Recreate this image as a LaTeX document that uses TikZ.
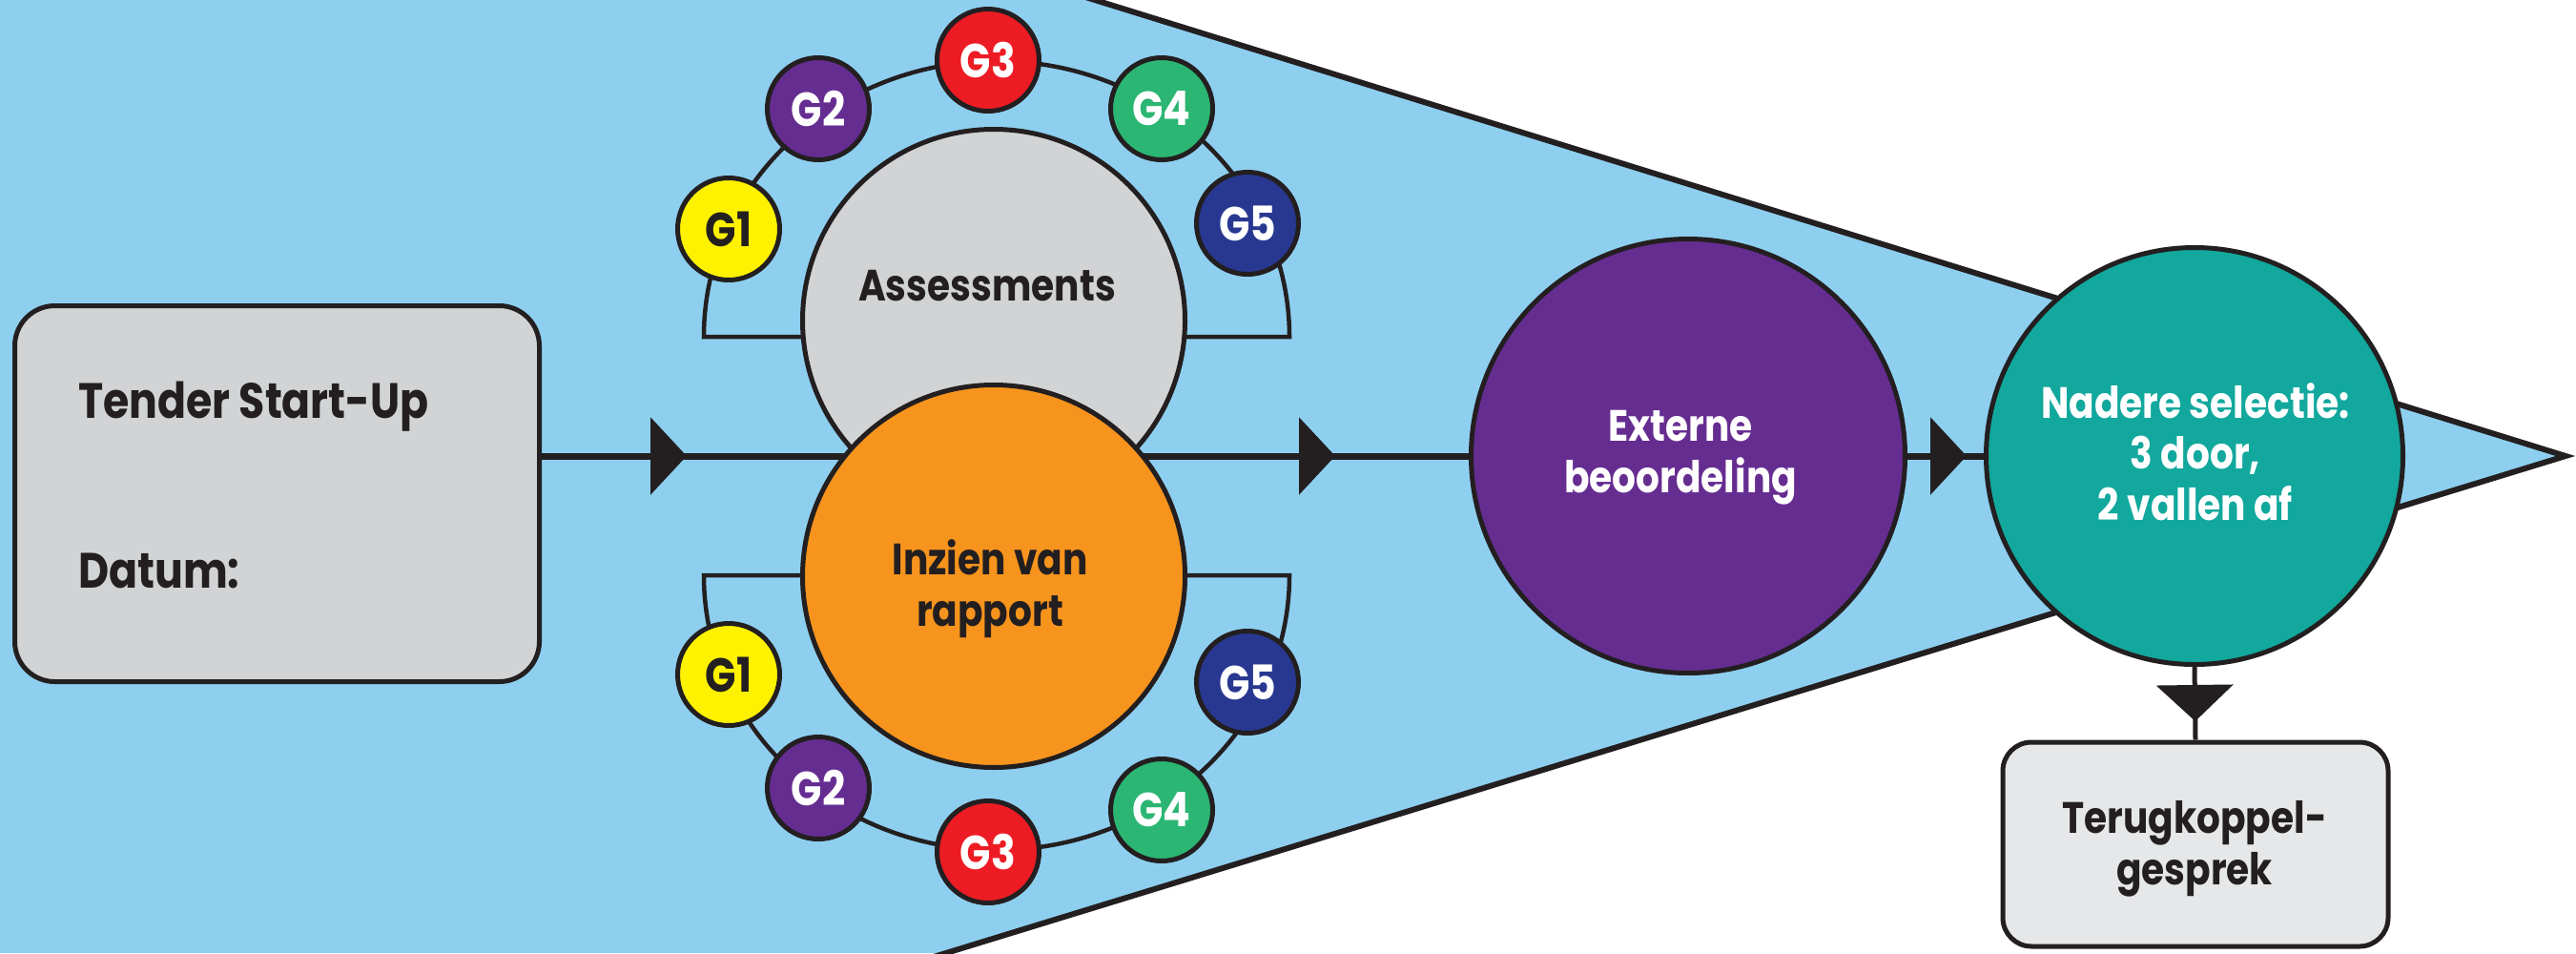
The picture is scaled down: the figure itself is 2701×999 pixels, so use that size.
\documentclass[tikz,border=0pt]{standalone}
\usepackage{fontspec}
\setmainfont{Poppins}[FakeStretch=0.85]
\usetikzlibrary{arrows.meta,decorations.markings}
\definecolor{skyb}{HTML}{8ECFEF}
\definecolor{ink}{HTML}{231F20}
\definecolor{boxgray}{HTML}{D1D3D4}
\definecolor{boxlight}{HTML}{E6E7E8}
\definecolor{orng}{HTML}{F7941D}
\definecolor{purp}{HTML}{662D91}
\definecolor{tealc}{HTML}{12A89D}
\definecolor{gyel}{HTML}{FFF200}
\definecolor{gred}{HTML}{ED1C24}
\definecolor{ggrn}{HTML}{2BB673}
\definecolor{gnavy}{HTML}{283891}
\pgfdeclarelayer{bg}
\pgfsetlayers{bg,main}
\newcommand\gfnt{\fontsize{50}{52}\selectfont\bfseries}
\newcommand\cfnt{\fontsize{46}{53.5}\selectfont\bfseries}
\newcommand\tfnt{\fontsize{52}{56}\selectfont\bfseries}
\tikzset{
  gcirc/.style={circle, draw=ink, line width=5pt, minimum size=107pt, inner sep=0pt, font=\gfnt, text=white},
  bigcirc/.style={circle, draw=ink, line width=5pt, inner sep=0pt},
  roundbox/.style={draw=ink, line width=5pt, inner sep=0pt},
  txt/.style={font=\cfnt, text=ink, inner sep=0pt, align=center},
  brk/.style={draw=ink, line width=4.5pt},
  conn/.style={draw=ink, line width=7pt},
  midtri/.tip={Triangle[length=38pt,width=80pt]},
}
\begin{document}
\begin{tikzpicture}[x=1pt,y=-1pt]
\useasboundingbox (0,0) rectangle (2701,999);
% start box
\node[roundbox, fill=boxgray, rounded corners=42pt, minimum width=550pt, minimum height=394pt] (tender) at (290.5,517.5) {};
\node[txt, font=\tfnt, anchor=base west] (tenderT) at (82,438) {Tender Start-Up};
\node[txt, font=\tfnt, anchor=base west] (datum) at (82,616) {Datum:};
% central circles
\node[bigcirc, fill=boxgray, minimum size=401pt] (asmt) at (1042,336) {};
\node[txt, anchor=base] (asmtT) at (1035,315) {Assessments};
\node[bigcirc, fill=orng, minimum size=401pt] (inz) at (1042,604) {};
\node[txt, anchor=base] (inzT) at (1038,656) {Inzien van\\rapport};
% upper G circles
\node[gcirc, fill=gyel, text=ink] (ug1) at (764,240) {G1};
\node[gcirc, fill=purp] (ug2) at (858,114) {G2};
\node[gcirc, fill=gred] (ug3) at (1036,63) {G3};
\node[gcirc, fill=ggrn] (ug4) at (1218,114) {G4};
\node[gcirc, fill=gnavy] (ug5) at (1308,234) {G5};
% lower G circles
\node[gcirc, fill=gyel, text=ink] (lg1) at (764,707) {G1};
\node[gcirc, fill=purp] (lg2) at (858,826) {G2};
\node[gcirc, fill=gred] (lg3) at (1036,893) {G3};
\node[gcirc, fill=ggrn] (lg4) at (1218,849) {G4};
\node[gcirc, fill=gnavy] (lg5) at (1308,715) {G5};
% Externe
\node[bigcirc, fill=purp, minimum size=455pt] (ext) at (1770,478) {};
\node[txt, text=white, anchor=base] (extT) at (1762,516) {Externe\\beoordeling};
% Nadere selectie
\node[bigcirc, fill=tealc, minimum size=437pt] (nad) at (2301,478) {};
\node[txt, text=white, anchor=base] (nadT) at (2302,545) {Nadere selectie:\\3 door,\\2 vallen af};
% Terugkoppel box
\node[roundbox, fill=boxlight, rounded corners=30pt, minimum width=404pt, minimum height=214pt] (terug) at (2302,885) {};
\node[txt, anchor=base] (terugT) at (2301,927) {Terugkoppel-\\gesprek};
\begin{pgfonlayer}{bg}
  % funnel
  \fill[skyb] (0,0) -- (1148,0) -- (2690,478) -- (992,999) -- (0,999) -- cycle;
  \draw[ink, line width=6pt] (1083.5,-20) -- (2690,478) -- (926.8,1019);
  % brackets
  \draw[brk] (1045,353) -- (738,353) arc[start angle=180, end angle=0, x radius=307pt, y radius=289pt] -- (1045,353);
  \draw[brk] (1045,603) -- (738,603) arc[start angle=180, end angle=360, x radius=307pt, y radius=288pt] -- (1045,603);
  % connectors
  \draw[conn, postaction={decorate}, decoration={markings,
      mark=at position 152pt with {\arrow[ink]{midtri}},
      mark=at position 832pt with {\arrow[ink]{midtri}}}]
    (tender.east |- ext.west) -- (ext.west);
  \draw[conn, postaction={decorate}, decoration={markings,
      mark=at position 62pt with {\arrow[ink]{midtri}}}]
    (ext.east) -- (nad.west);
  \draw[conn, line width=5pt, postaction={decorate}, decoration={markings,
      mark=at position 57pt with {\arrow[ink]{midtri}}}]
    (nad.south) -- (terug.north);
\end{pgfonlayer}
\end{tikzpicture}
\end{document}
